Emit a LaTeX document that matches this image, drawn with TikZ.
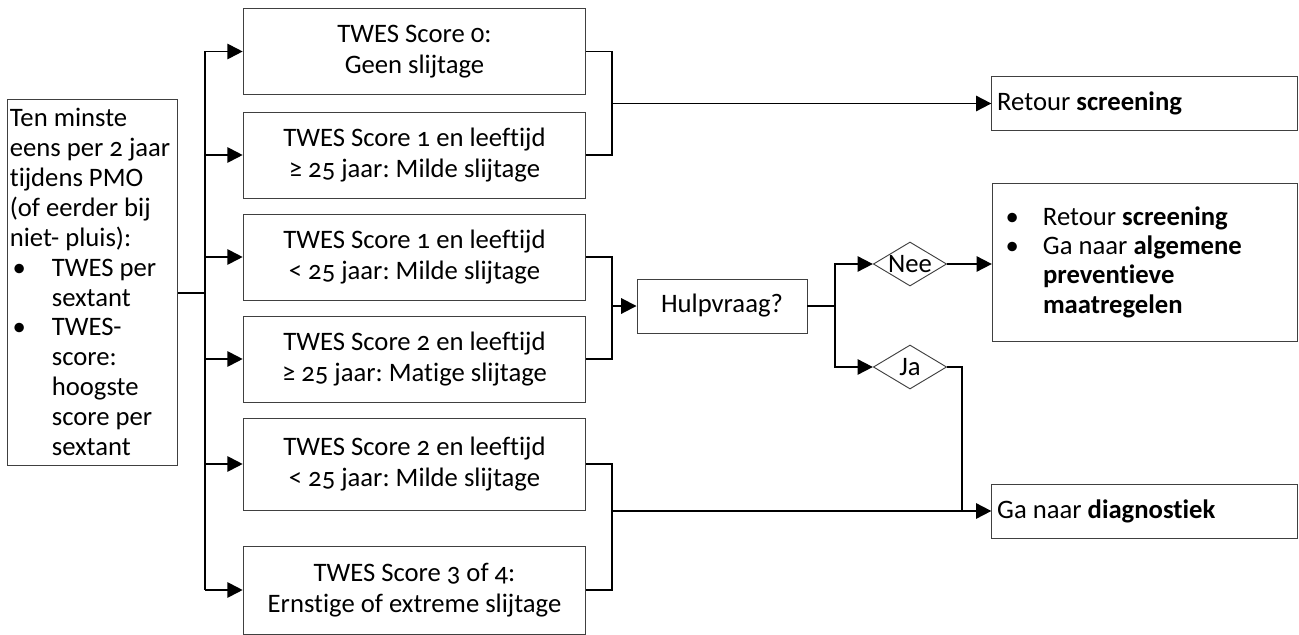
\documentclass[tikz,border=0pt]{standalone}
\usepackage{fontspec}
\setmainfont{Carlito}[Numbers=OldStyle,Ligatures=NoCommon]
\usetikzlibrary{shapes.geometric,arrows.meta}

\newcommand{\bul}[2]{\makebox[#1][l]{\hspace{#2}\textbullet}}

\begin{document}
\frenchspacing
\begin{tikzpicture}[x=0.75pt,y=-0.75pt,
	txt/.style={font=\fontsize{20pt}{23pt}\selectfont},
	box/.style={txt,draw=black!75,line width=0.7pt,rectangle,inner sep=3pt},
	scorebox/.style={box,minimum width=257pt,minimum height=64.5pt,align=center},
	endbox/.style={box,minimum width=229pt,text width=221pt,inner xsep=4pt,align=flush left},
	ruit/.style={txt,draw=black!75,line width=0.7pt,diamond,aspect=1.7,inner sep=0pt,text height=13pt,text depth=0pt,minimum width=55pt,minimum height=33pt},
	lijn/.style={line width=1.4pt},
	pijl/.style={lijn,-{Triangle[length=11.5pt,width=11.5pt]}}]
	\useasboundingbox (0,0) rectangle (1299,635);

	\node[box,minimum width=128pt,minimum height=274.5pt,text width=124pt,inner xsep=2pt,align=flush left,font=\fontsize{20pt}{22.4pt}\selectfont] (start) at (92.5,282)
		{Ten minste\\eens~per~2~jaar\\tijdens PMO\\(of eerder bij\\niet- pluis):\\
		\bul{31.5pt}{2pt}TWES per\\\hspace*{31.5pt}sextant\\
		\bul{31.5pt}{2pt}TWES-\\\hspace*{31.5pt}score:\\\hspace*{31.5pt}hoogste\\\hspace*{31.5pt}score per\\\hspace*{31.5pt}sextant};

	\node[scorebox] (s0) at (414.5,51.5) {TWES Score 0:\\Geen slijtage};
	\node[scorebox] (s1) at (414.5,155) {TWES Score 1 en leeftijd\\≥ 25 jaar: Milde slijtage};
	\node[scorebox] (s1b) at (414.5,257) {TWES Score 1 en leeftijd\\< 25 jaar: Milde slijtage};
	\node[scorebox] (s2) at (414.5,359) {TWES Score 2 en leeftijd\\≥ 25 jaar: Matige slijtage};
	\node[scorebox,minimum height=69pt] (s2b) at (414.5,464) {TWES Score 2 en leeftijd\\< 25 jaar: Milde slijtage};
	\node[scorebox,minimum height=66pt] (s34) at (414.5,590) {TWES Score 3 of 4:\\Ernstige of extreme slijtage};

	\node[box,minimum width=127.5pt,minimum height=40.5pt] (hulp) at (722,306) {Hulpvraag?};
	\node[ruit] (nee) at (910,264) {Nee};
	\node[ruit] (ja) at (910,367) {Ja};

	\node[endbox,minimum height=41pt] (retour) at (1144.5,103.5) {Retour \textbf{screening}};
	\node[endbox,minimum height=118.5pt,font=\fontsize{20pt}{22pt}\selectfont] (prev) at (1145,262)
		{\bul{34pt}{6pt}Retour \textbf{screening}\\\bul{34pt}{6pt}Ga naar \textbf{algemene}\\\hspace*{34pt}\textbf{preventieve}\\\hspace*{34pt}\textbf{maatregelen}};
	\node[endbox,minimum height=40.5pt] (diag) at (1144.5,511) {Ga naar \textbf{diagnostiek}};

	% stam naar de scores
	\coordinate (split) at (205,293);
	\draw[lijn] (split -| start.east) -- (split);
	\draw[lijn] (split |- s0) -- (split |- s34);
	\foreach \n in {s0,s1,s1b,s2,s2b,s34}
		\draw[pijl] (split |- \n) -- (\n.west);

	% samenvoegen
	\coordinate (j1) at (612,103.5);
	\draw[lijn] (s0.east) -| (j1) |- (s1.east);
	\draw[pijl] (j1) -- (retour.west);

	\coordinate (j2) at (612,306);
	\draw[lijn] (s1b.east) -| (j2) |- (s2.east);
	\draw[pijl] (j2) -- (hulp.west);

	\coordinate (j3) at (835,306);
	\draw[lijn] (hulp.east) -- (j3);
	\draw[pijl] (j3) |- (nee.west);
	\draw[pijl] (j3) |- (ja.west);
	\draw[pijl] (nee.east) -- (nee.east -| prev.west);

	\coordinate (j4) at (612,511);
	\coordinate (j5) at (962,511);
	\draw[lijn] (s2b.east) -| (j4) |- (s34.east);
	\draw[pijl] (j4) -- (diag.west);
	\draw[lijn] (ja.east) -| (j5);
\end{tikzpicture}
\end{document}
